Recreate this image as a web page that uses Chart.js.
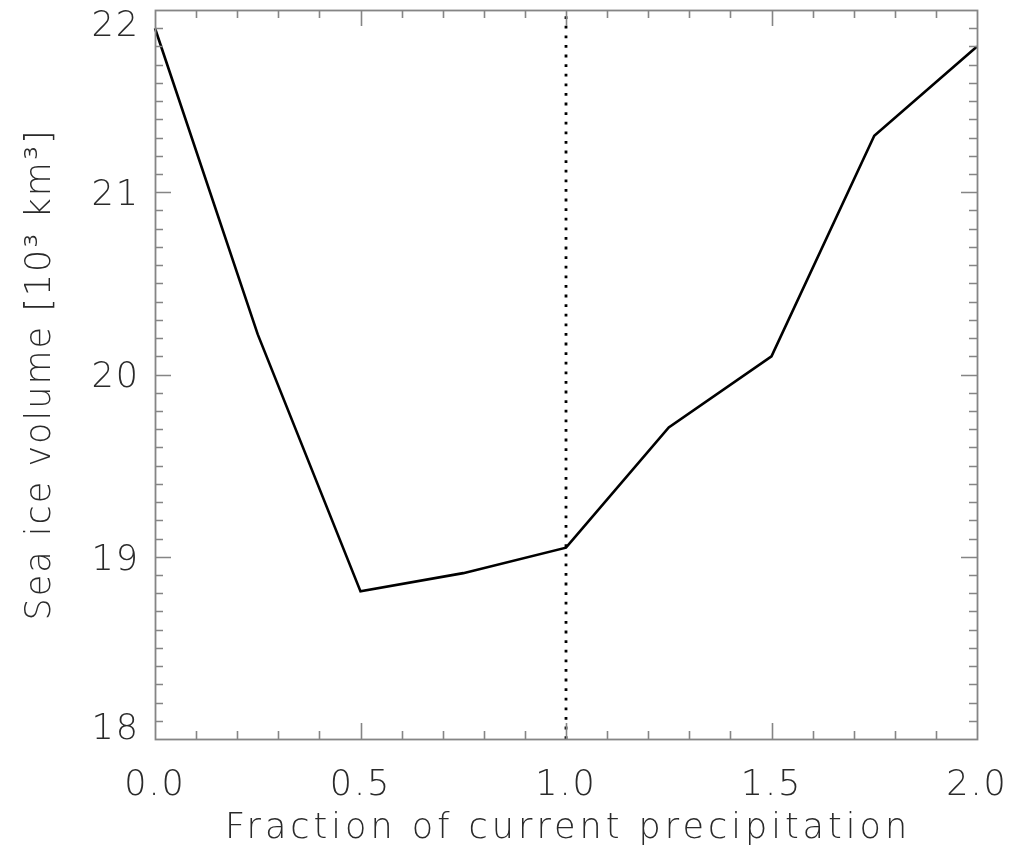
<!DOCTYPE html>
<html><head><meta charset="utf-8">
<script src="https://cdn.jsdelivr.net/npm/chart.js@4.4.1/dist/chart.umd.min.js"></script>
<style>html,body{margin:0;padding:0;background:#fff}canvas{display:block}</style>
</head><body>
<canvas id="c" width="1013" height="850"></canvas>
<script>
const fractions = [0, 0.25, 0.5, 0.75, 1.0, 1.25, 1.5, 1.75, 2.0];
const iceVolume = [21.90, 20.22, 18.81, 18.91, 19.05, 19.71, 20.10, 21.31, 21.80];
const refLineX = [1.0, 1.0];
const refLineY = [18, 22];
const xTickValues = [0, 0.5, 1.0, 1.5, 2.0];
const xTickLabels = ['0.0', '0.5', '1.0', '1.5', '2.0'];
const yTickValues = [18, 19, 20, 21, 22];
const yTickLabels = ['18', '19', '20', '21', '22'];
const xTitle = 'Fraction of current precipitation';
const yTitle = 'Sea ice volume [10\u00B3 km\u00B3]';

const FONT_FAMILY = '"DejaVu Sans", "Liberation Sans", sans-serif';
const FONT_WEIGHT = 200;
const FONT_SIZE = 35;
const TEXT_COLOR = '#2a2a2a';
const AXIS_COLOR = '#858585';
const SPACING = '2px';

const frameTicks = {
  id: 'frameTicks',
  beforeUpdate(chart) { chart.ctx.letterSpacing = SPACING; },
  beforeDraw(chart) { chart.ctx.letterSpacing = SPACING; },
  afterDatasetsDraw(chart) {
    const {ctx, chartArea: a, scales: {x, y}} = chart;
    ctx.save();
    ctx.strokeStyle = AXIS_COLOR;
    ctx.lineWidth = 1.6;
    ctx.beginPath();
    const nx = 20;
    for (let i = 1; i < nx; i++) {
      const v = x.min + i * (x.max - x.min) / nx;
      const px = Math.round(x.getPixelForValue(v)) + 0.5;
      const len = (i % 5 === 0) ? 16 : 8;
      ctx.moveTo(px, a.bottom); ctx.lineTo(px, a.bottom - len);
      ctx.moveTo(px, a.top); ctx.lineTo(px, a.top + len);
    }
    const ny = 40;
    for (let i = 1; i < ny; i++) {
      const v = y.min + i * (y.max - y.min) / ny;
      const py = Math.round(y.getPixelForValue(v)) + 0.5;
      const len = (i % 10 === 0) ? 16 : 8;
      ctx.moveTo(a.left, py); ctx.lineTo(a.left + len, py);
      ctx.moveTo(a.right, py); ctx.lineTo(a.right - len, py);
    }
    ctx.stroke();
    ctx.lineWidth = 1.8;
    ctx.strokeRect(Math.round(a.left) + 0.5, Math.round(a.top) + 0.5,
                   Math.round(a.right - a.left), Math.round(a.bottom - a.top));
    // y tick labels
    ctx.font = FONT_WEIGHT + ' ' + FONT_SIZE + 'px ' + FONT_FAMILY;
    ctx.fillStyle = TEXT_COLOR;
    ctx.textAlign = 'right';
    ctx.textBaseline = 'alphabetic';
    const capH = 0.73 * FONT_SIZE;
    yTickValues.forEach((v, i) => {
      const p = y.getPixelForValue(v);
      const cy = Math.min(Math.max(p, a.top + capH / 2), a.bottom - capH / 2);
      ctx.fillText(yTickLabels[i], a.left - 15, cy + capH / 2);
    });
    // x axis title
    ctx.letterSpacing = '4px';
    ctx.textAlign = 'center';
    ctx.fillText(xTitle, (a.left + a.right) / 2 + 2, 825.5 + capH / 2);
    ctx.restore();
  }
};

new Chart(document.getElementById('c'), {
  type: 'line',
  data: {
    datasets: [
      {
        data: fractions.map((f, i) => ({x: f, y: iceVolume[i]})),
        borderColor: '#000',
        borderWidth: 2.6,
        pointRadius: 0,
        tension: 0,
        fill: false
      },
      {
        data: refLineX.map((f, i) => ({x: f, y: refLineY[i]})),
        borderColor: '#000',
        borderWidth: 2.8,
        borderDash: [2.8, 6.8],
        pointRadius: 0,
        fill: false
      }
    ]
  },
  options: {
    responsive: false,
    animation: false,
    events: [],
    clip: false,
    layout: {padding: {top: 10, right: 36, left: 0, bottom: 0}},
    plugins: {legend: {display: false}, tooltip: {enabled: false}},
    scales: {
      x: {
        type: 'linear', min: 0, max: 2,
        afterBuildTicks: s => { s.ticks = xTickValues.map(v => ({value: v})); },
        afterFit: s => { s.height = 111; s.paddingLeft = 0; s.paddingRight = 0; },
        grid: {display: false, drawTicks: false},
        border: {display: false},
        ticks: {
          callback: (v, i) => xTickLabels[i],
          font: {family: FONT_FAMILY, size: FONT_SIZE, weight: FONT_WEIGHT},
          color: TEXT_COLOR,
          padding: 26,
          maxRotation: 0
        },
        title: {display: false}
      },
      y: {
        type: 'linear', min: 18, max: 22,
        afterBuildTicks: s => { s.ticks = yTickValues.map(v => ({value: v})); },
        afterFit: s => { s.width = 155; s.paddingTop = 0; s.paddingBottom = 0; },
        grid: {display: false, drawTicks: false},
        border: {display: false},
        ticks: {display: false},
        title: {
          display: true, text: yTitle, color: TEXT_COLOR,
          font: {family: FONT_FAMILY, size: FONT_SIZE, weight: FONT_WEIGHT},
          padding: {top: 20, bottom: 0}
        }
      }
    }
  },
  plugins: [frameTicks]
});
</script>
</body></html>
